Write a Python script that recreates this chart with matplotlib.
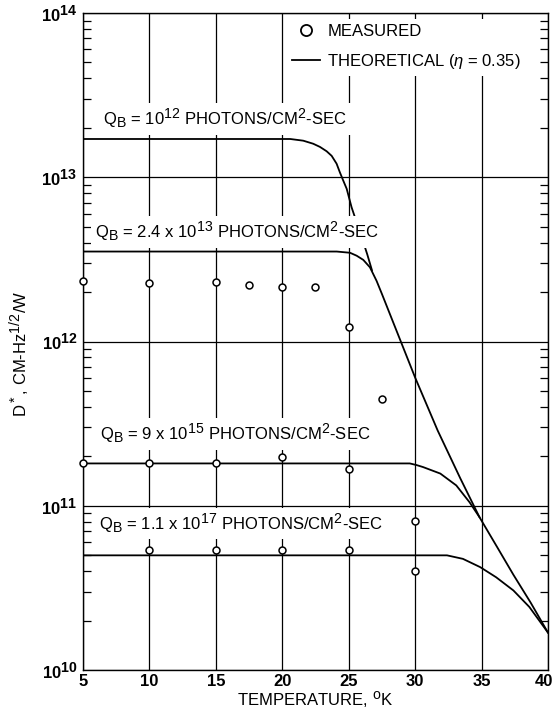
import numpy as np
import matplotlib
matplotlib.use("Agg")
import matplotlib.pyplot as plt
import matplotlib._mathtext as mathtext_mod
from matplotlib.lines import Line2D
from matplotlib.legend_handler import HandlerLine2D
from matplotlib.transforms import ScaledTranslation

plt.rcParams['font.family'] = ['Liberation Sans', 'DejaVu Sans']
plt.rcParams['mathtext.fontset'] = 'custom'
plt.rcParams['mathtext.rm'] = 'Liberation Sans'
plt.rcParams['mathtext.it'] = 'Liberation Sans:italic'
plt.rcParams['mathtext.default'] = 'regular'
# the old figure uses big exponents, so shrink sub/superscripts less
mathtext_mod.SHRINK_FACTOR = 0.85

# theoretical curves (temperature in K, D* in cm-Hz^1/2/W)
temp_qb1 = [5, 20.6, 21.58, 22.33, 22.84, 23.34, 23.72, 24.09, 24.34, 24.59, 24.85,
            25.22, 25.47, 26.0, 26.4, 26.75]
dstar_qb1 = [1.71e13, 1.71e13, 1.67e13, 1.60e13, 1.53e13, 1.44e13, 1.35e13, 1.21e13,
             1.07e13, 9.55e12, 8.51e12, 6.56e12, 5.71e12, 4.27e12, 3.39e12, 2.72e12]

temp_qb2 = [5, 24.1, 25.1, 25.6, 26.1, 26.6, 27.1]
dstar_qb2 = [3.53e12, 3.53e12, 3.47e12, 3.33e12, 3.14e12, 2.83e12, 2.34e12]

# common thermally limited tail, shared by the curves at high temperature
temp_tail = [27.5, 28.5, 30.0, 31.7, 33.4, 34.85, 36.2, 37.4, 38.7, 40.0]
dstar_tail = [1.95e12, 1.22e12, 6.04e11, 2.87e11, 1.47e11, 8.51e10, 5.56e10, 3.80e10,
              2.57e10, 1.69e10]

temp_qb3 = [5, 29.6, 30.1, 30.6, 31.9, 33.1, 34.1, 34.85]
dstar_qb3 = [1.81e11, 1.81e11, 1.77e11, 1.72e11, 1.57e11, 1.33e11, 1.05e11, 8.51e10]

temp_qb4 = [5, 32.4, 33.6, 34.9, 36.1, 37.4, 38.6, 40.0]
dstar_qb4 = [4.99e10, 4.99e10, 4.75e10, 4.23e10, 3.67e10, 3.05e10, 2.42e10, 1.69e10]

# measured points
meas_temp = [5, 10, 15, 17.5, 20, 22.5, 25, 27.5,
             5, 10, 15, 20, 25, 30,
             10, 15, 20, 25, 30]
meas_dstar = [2.35e12, 2.26e12, 2.29e12, 2.22e12, 2.16e12, 2.16e12, 1.23e12, 4.49e11,
              1.81e11, 1.81e11, 1.81e11, 1.98e11, 1.68e11, 8.05e10,
              5.35e10, 5.35e10, 5.35e10, 5.35e10, 3.98e10]

curve_labels = [
    (6.5, 2.07e13, "$Q_B$ = 10$^{12}$ PHOTONS/CM$^2$-SEC"),
    (5.9, 4.24e12, "$Q_B$ = 2.4 x 10$^{13}$ PHOTONS/CM$^2$-SEC"),
    (6.3, 2.50e11, "$Q_B$ = 9 x 10$^{15}$ PHOTONS/CM$^2$-SEC"),
    (6.2, 7.10e10, "$Q_B$ = 1.1 x 10$^{17}$ PHOTONS/CM$^2$-SEC"),
]


class LeftMarkerHandler(HandlerLine2D):
    # put the legend marker at the left of the handle box, like the "O" in the original
    def get_xdata(self, legend, xdescent, ydescent, width, height, fontsize):
        xdata, _ = super().get_xdata(legend, xdescent, ydescent, width, height, fontsize)
        return xdata, [-xdescent + 0.2 * width]


fig = plt.figure(figsize=(5.55, 7.23), dpi=100)
ax = fig.add_axes([0.1495, 0.0733, 0.8378, 0.9087])

lw = 1.3
ax.plot(temp_qb1, dstar_qb1, color='black', lw=lw, zorder=2)
ax.plot(temp_qb2 + temp_tail, dstar_qb2 + dstar_tail, color='black', lw=lw, zorder=2)
ax.plot(temp_qb3, dstar_qb3, color='black', lw=lw, zorder=2)
ax.plot(temp_qb4, dstar_qb4, color='black', lw=lw, zorder=2)
ax.plot(meas_temp, meas_dstar, 'o', ms=5, mfc='white', mec='black', mew=1.1,
        zorder=5, clip_on=False)

for tx, ty, s in curve_labels:
    ax.text(tx, ty, s, fontsize=12, va='baseline', ha='left', zorder=4,
            bbox=dict(facecolor='white', edgecolor='none', pad=3.0))

ax.set_yscale('log')
ax.set_xlim(5, 40)
ax.set_ylim(1e10, 1e14)
ax.set_xticks(np.arange(5, 41, 5))
ax.set_yticks([1e10, 1e11, 1e12, 1e13, 1e14])
ax.set_yticklabels(['10$^{10}$', '10$^{11}$', '10$^{12}$', '10$^{13}$', '10$^{14}$'])
ax.yaxis.set_minor_locator(matplotlib.ticker.LogLocator(base=10, subs=np.arange(2, 10)))
ax.yaxis.set_minor_formatter(matplotlib.ticker.NullFormatter())

ax.tick_params(axis='x', length=0, pad=3, labelsize=12)
ax.tick_params(axis='y', which='major', length=0, pad=4, labelsize=12)
ax.tick_params(axis='y', which='minor', direction='in', length=6, width=0.9,
               left=True, right=True)
for lab in ax.get_xticklabels() + ax.get_yticklabels():
    lab.set_fontweight('bold')
# nudge the last x label in so it stays inside the figure
last = ax.get_xticklabels()[-1]
last.set_transform(last.get_transform() + ScaledTranslation(-3 / 72, 0, fig.dpi_scale_trans))

ax.grid(True, which='major', color='black', lw=0.9, zorder=1)
ax.set_axisbelow(True)
for sp in ax.spines.values():
    sp.set_linewidth(1.0)

ax.set_xlabel("TEMPERATURE, $^o$K", fontsize=12, va='baseline')
ax.xaxis.set_label_coords(0.5, -0.0548)
ax.set_ylabel("D$^*$, CM-Hz$^{1/2}$/W", fontsize=12, va='baseline')
ax.yaxis.set_label_coords(-0.12, 0.481)

handles = [
    Line2D([], [], ls='none', marker='o', ms=8, mfc='white', mec='black', mew=1.3),
    Line2D([], [], color='black', lw=lw),
]
ax.legend(handles, ["MEASURED", "THEORETICAL ($\\mathit{\\eta}$ = 0.35)"],
          handler_map={handles[0]: LeftMarkerHandler()},
          loc='upper left', bbox_to_anchor=(0.4387, 0.991), borderaxespad=0,
          frameon=True, facecolor='white', edgecolor='none', framealpha=1,
          fancybox=False, fontsize=12, handlelength=1.7, handletextpad=0.42,
          labelspacing=0.8, borderpad=0.3)

fig.savefig("out.png", dpi=100)
